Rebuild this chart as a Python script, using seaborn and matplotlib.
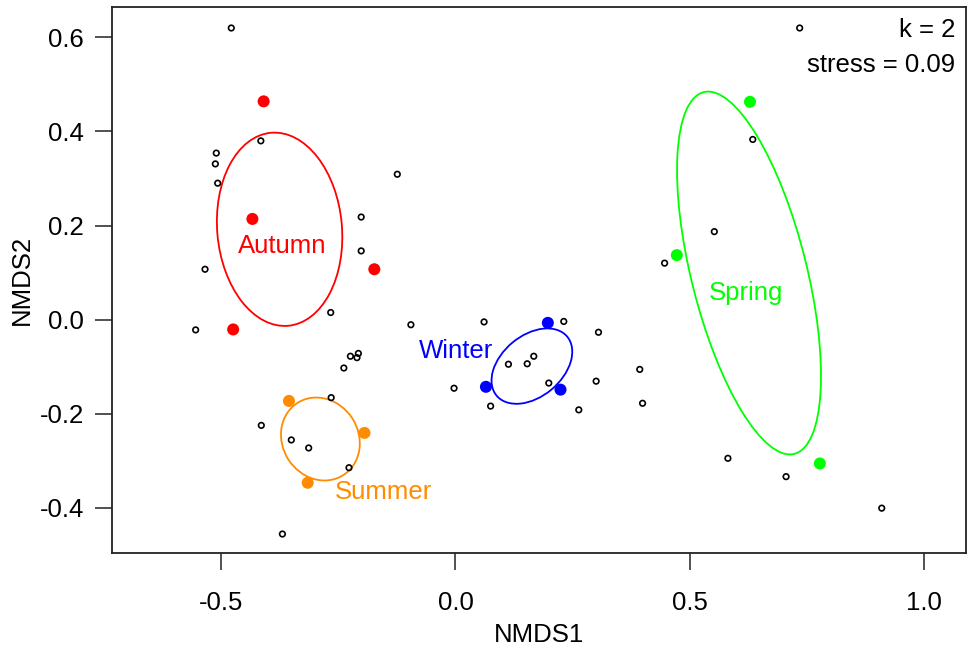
import matplotlib
matplotlib.use("Agg")
import numpy as np
import pandas as pd
import seaborn as sns
from matplotlib import pyplot as plt
from matplotlib.patches import Ellipse

# species scores (open circles)
species_x = [-0.478, -0.415, -0.510, -0.512, -0.507, -0.124, -0.201, -0.201, -0.534,
             -0.554, -0.266, -0.224, -0.207, -0.210, -0.238, -0.265, -0.414, -0.350,
             -0.313, -0.227, -0.369, -0.095, 0.061, 0.231, 0.305, 0.113, 0.153, 0.167,
             0.199, -0.003, 0.075, 0.263, 0.300, 0.393, 0.399, 0.734, 0.634, 0.552,
             0.446, 0.581, 0.705, 0.909]
species_y = [0.620, 0.380, 0.354, 0.331, 0.290, 0.309, 0.218, 0.146, 0.107,
             -0.022, 0.015, -0.078, -0.072, -0.081, -0.103, -0.166, -0.225, -0.256,
             -0.273, -0.315, -0.456, -0.011, -0.005, -0.004, -0.027, -0.095, -0.094, -0.078,
             -0.135, -0.146, -0.184, -0.192, -0.131, -0.106, -0.178, 0.620, 0.383, 0.187,
             0.120, -0.295, -0.334, -0.401]

# site scores by season
seasons = ["Autumn", "Summer", "Winter", "Spring"]
autumn_x = [-0.409, -0.433, -0.173, -0.474]
autumn_y = [0.464, 0.214, 0.107, -0.021]
summer_x = [-0.355, -0.194, -0.315]
summer_y = [-0.173, -0.241, -0.347]
winter_x = [0.197, 0.065, 0.224]
winter_y = [-0.007, -0.143, -0.149]
spring_x = [0.628, 0.472, 0.777]
spring_y = [0.463, 0.137, -0.306]
season_colors = ["#FF0000", "#FF8C00", "#0000FF", "#00FF00"]

# ellipses: centre x, centre y, semi-major, semi-minor, angle (deg)
ell_cx = [-0.375, -0.288, 0.163, 0.626]
ell_cy = [0.192, -0.254, -0.099, 0.099]
ell_a = [0.206, 0.091, 0.098, 0.3965]
ell_b = [0.133, 0.081, 0.065, 0.123]
ell_angle = [95.1, 122.8, 39.7, 104.1]

# label positions
label_x = [-0.369, -0.154, 0.002, 0.619]
label_y = [0.156, -0.367, -0.067, 0.056]

sns.set_style("ticks")
plt.rcParams["font.family"] = ["Liberation Sans", "DejaVu Sans"]
plt.rcParams.update({
    "font.size": 18.5,
    "axes.labelsize": 18.5,
    "xtick.labelsize": 18.5,
    "ytick.labelsize": 18.5,
    "text.color": "black",
    "axes.labelcolor": "black",
    "xtick.color": "#222222",
    "ytick.color": "#222222",
    "xtick.labelcolor": "black",
    "ytick.labelcolor": "black",
    "axes.linewidth": 1.3,
    "xtick.major.size": 12,
    "ytick.major.size": 12,
    "xtick.major.width": 1.1,
    "ytick.major.width": 1.1,
    "xtick.major.pad": 15,
    "ytick.major.pad": 8,
    "axes.edgecolor": "#222222",
})

sites = pd.DataFrame({
    "NMDS1": autumn_x + summer_x + winter_x + spring_x,
    "NMDS2": autumn_y + summer_y + winter_y + spring_y,
    "season": (["Autumn"] * len(autumn_x) + ["Summer"] * len(summer_x)
               + ["Winter"] * len(winter_x) + ["Spring"] * len(spring_x)),
})
species = pd.DataFrame({"NMDS1": species_x, "NMDS2": species_y})

fig = plt.figure(figsize=(9.68, 6.46), dpi=100)
ax = fig.add_axes([0.1154, 0.1435, 0.8822, 0.8452])

sns.scatterplot(data=species, x="NMDS1", y="NMDS2", ax=ax, marker="o", s=16,
                facecolor="none", edgecolor="black", linewidth=1.2, legend=False, zorder=3)
sns.scatterplot(data=sites, x="NMDS1", y="NMDS2", hue="season", hue_order=seasons,
                palette=season_colors, ax=ax, s=75, linewidth=0, legend=False, zorder=4)

for i, name in enumerate(seasons):
    ax.add_patch(Ellipse((ell_cx[i], ell_cy[i]), 2 * ell_a[i], 2 * ell_b[i], angle=ell_angle[i],
                         fill=False, edgecolor=season_colors[i], linewidth=1.3, zorder=2))
    ax.text(label_x[i], label_y[i], name, color=season_colors[i], fontsize=18.5,
            ha="center", va="center", zorder=5)

ax.text(0.988, 0.958, "k = 2", transform=ax.transAxes, ha="right", va="center")
ax.text(0.988, 0.895, "stress = 0.09", transform=ax.transAxes, ha="right", va="center")

ax.set_xlim(-0.733, 1.088)
ax.set_ylim(-0.497, 0.664)
ax.set_xticks([-0.5, 0.0, 0.5, 1.0])
ax.set_yticks([-0.4, -0.2, 0.0, 0.2, 0.4, 0.6])
ax.set_xticklabels(["-0.5", "0.0", "0.5", "1.0"])
ax.set_yticklabels(["-0.4", "-0.2", "0.0", "0.2", "0.4", "0.6"])
ax.set_xlabel("NMDS1", labelpad=6)
ax.set_ylabel("NMDS2", labelpad=4)

fig.savefig("out.png", dpi=100)
